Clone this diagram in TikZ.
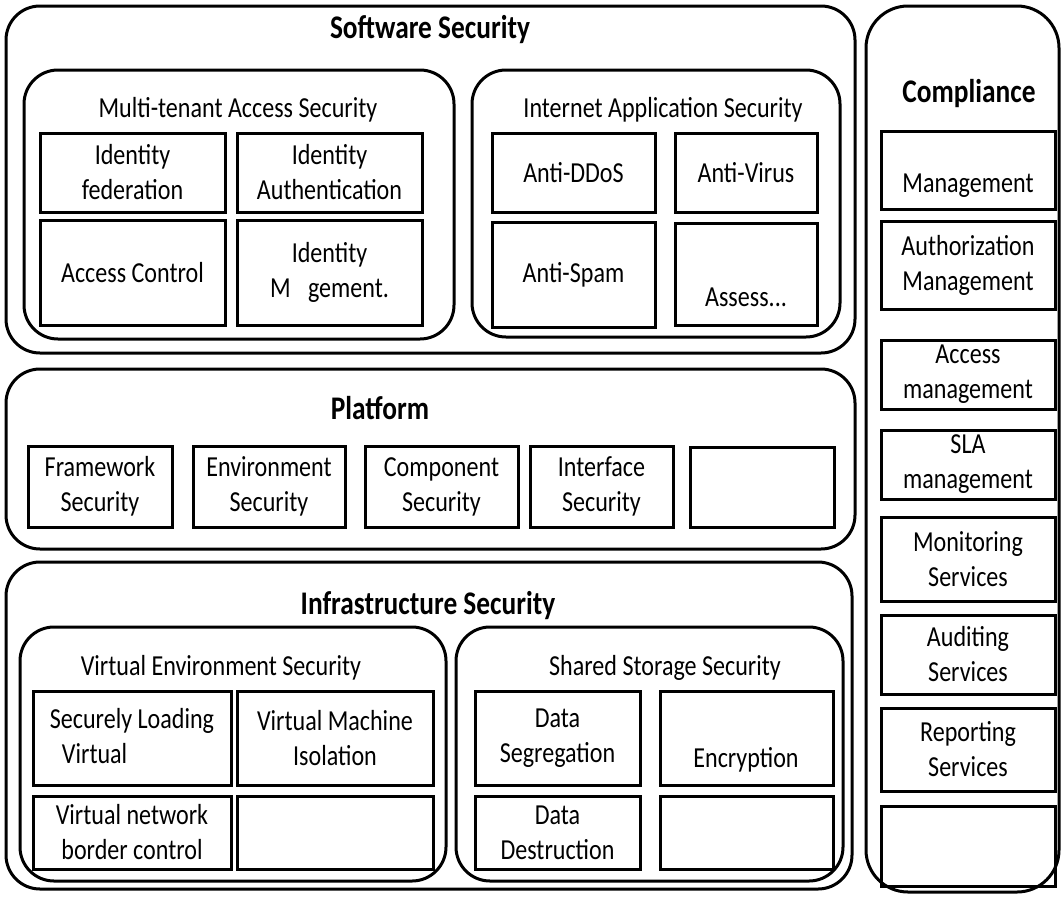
\documentclass[tikz,border=0pt]{standalone}
\usepackage{fontspec}
\setmainfont{Carlito}[FakeStretch=0.83]
\tikzset{
  frame/.style={draw, line width=3pt, rounded corners=34pt, inner sep=0pt},
  cell/.style={draw, line width=3pt, inner sep=0pt, align=center, font=\fontsize{29}{35}\selectfont},
  ttl/.style={inner sep=0pt, align=center, font=\fontsize{29}{35}\selectfont},
  bttl/.style={inner sep=0pt, font=\bfseries\fontsize{33}{40}\selectfont},
}
\newcommand\myframe[5]{\node[frame, minimum width={(#4-#2)*1pt}, minimum height={(#5-#3)*1pt}] (#1) at ({(#2+#4)/2},{(#3+#5)/2}) {};}
\newcommand\mybox[6]{\node[cell, minimum width={(#4-#2)*1pt}, minimum height={(#5-#3)*1pt}] (#1) at ({(#2+#4)/2},{(#3+#5)/2}) {#6};}
\begin{document}
\begin{tikzpicture}[x=1pt,y=-1pt]
\useasboundingbox[fill=white] (0,0) rectangle (1062,897);
% Software security
\myframe{sw}{6}{6}{855}{353}
\node[bttl] (swt) at (430,30) {Software Security};
\myframe{mt}{24}{70}{454}{339}
\node[ttl] (mtt) at (238,110) {Multi-tenant Access Security};
\mybox{idf}{40}{133}{225}{212}{Identity\\federation}
\mybox{ida}{237}{133}{422}{212}{Identity\\Authentication}
\mybox{ac}{40}{220}{225}{325}{Access Control}
\mybox{idm}{237}{220}{422}{325}{Identity\\M\hspace{0.6em}gement.}
\myframe{ia}{472}{70}{840}{337}
\node[ttl] (iat) at (663,110) {Internet Application Security};
\mybox{ddos}{492}{133}{655}{212}{Anti-DDoS}
\mybox{av}{675}{133}{817}{212}{Anti-Virus}
\mybox{spam}{492}{222}{655}{327}{Anti-Spam}
\mybox{ass}{675}{223}{817}{325}{}
\node[ttl] (asst) at (746,297) {Assess...};
% Platform
\myframe{pf}{6}{369}{855}{549}
\node[bttl] (pft) at (380,408) {Platform};
\mybox{fw}{28}{446}{172}{527}{Framework\\Security}
\mybox{env}{193}{446}{345}{527}{Environment\\Security}
\mybox{comp}{365}{446}{518}{527}{Component\\Security}
\mybox{intf}{530}{446}{673}{527}{Interface\\Security}
\mybox{pe}{690}{447}{834}{527}{}
% Infrastructure
\myframe{inf}{6}{562}{852}{889}
\node[bttl] (inft) at (428,606) {Infrastructure Security};
\myframe{ve}{20}{627}{446}{881}
\node[ttl] (vet) at (221,668) {Virtual Environment Security};
\mybox{slv}{33}{691}{231}{785}{Securely Loading\\Virtual\phantom{ Images}}
\mybox{vmi}{237}{691}{433}{785}{Virtual Machine\\Isolation}
\mybox{vnb}{33}{796}{231}{869}{Virtual network\\border control}
\mybox{ve4}{237}{796}{433}{869}{}
\myframe{ss}{456}{627}{843}{881}
\node[ttl] (sst) at (665,668) {Shared Storage Security};
\mybox{dseg}{475}{691}{640}{785}{Data\\Segregation}
\mybox{enc}{660}{691}{833}{785}{}
\node[ttl] (enct) at (746,760) {Encryption};
\mybox{ddes}{475}{796}{640}{869}{Data\\Destruction}
\mybox{ss4}{660}{796}{833}{869}{}
% Compliance
\node[frame, rounded corners=42pt, minimum width=193pt, minimum height=886pt] (cp) at (962.5,449) {};
\node[bttl] (cpt) at (969,94) {Compliance};
\mybox{c1}{881}{131}{1055}{209}{}
\node[ttl] (c1t) at (968,186) {Management};
\mybox{c2}{881}{221}{1055}{309}{Authorization\\Management}
\mybox{c3}{881}{340}{1055}{409}{Access\\management}
\mybox{c4}{881}{430}{1055}{499}{SLA\\management}
\mybox{c5}{881}{517}{1055}{601}{Monitoring\\Services}
\mybox{c6}{881}{615}{1055}{694}{Auditing\\Services}
\mybox{c7}{881}{708}{1055}{791}{Reporting\\Services}
\mybox{c8}{881}{806}{1055}{886}{}
\end{tikzpicture}
\end{document}
